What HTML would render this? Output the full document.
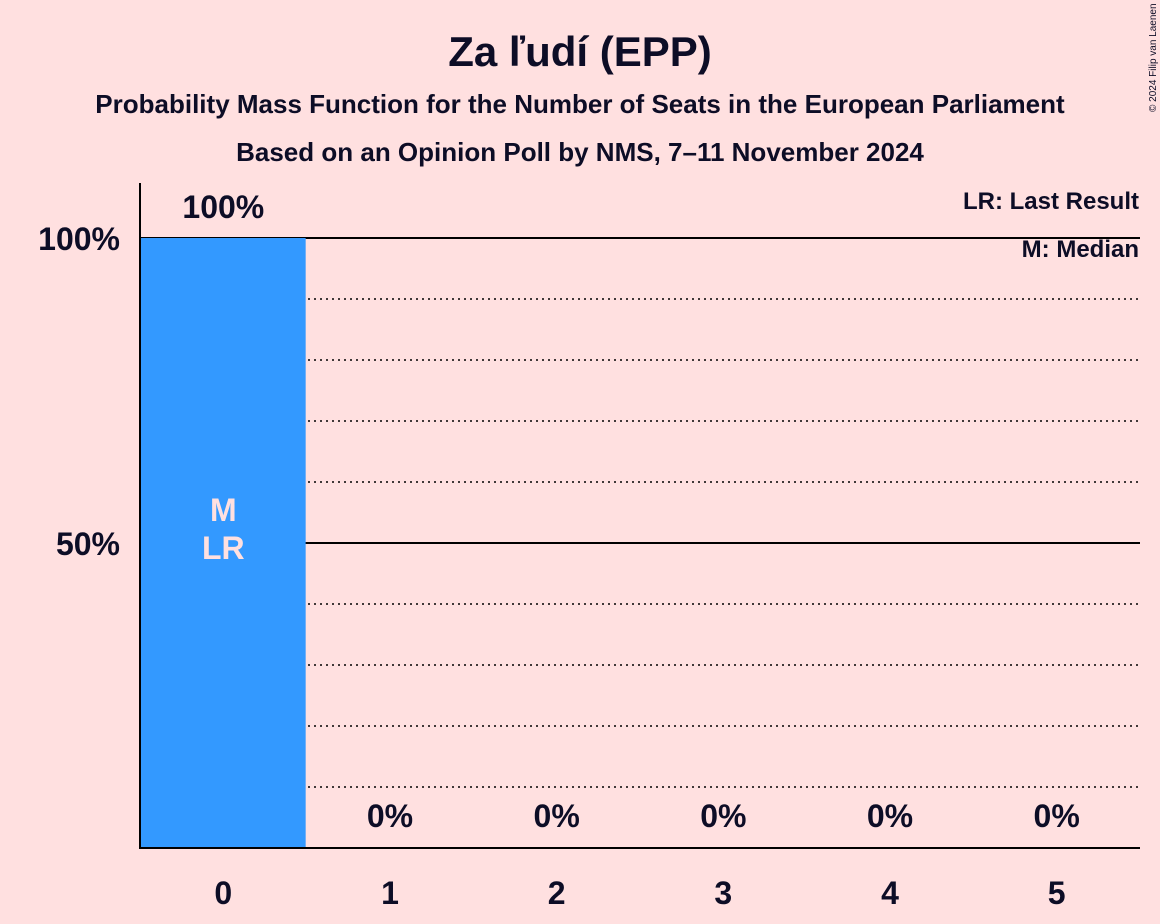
<!DOCTYPE html>
<html><head><meta charset="utf-8"><style>
html,body{margin:0;padding:0;background:#ffe0e0;}
svg{display:block;font-family:"Liberation Sans",sans-serif;}
</style></head><body>
<svg id="chart" width="1160" height="924" viewBox="0 0 1160 924" xmlns="http://www.w3.org/2000/svg">
<rect width="1160" height="924" fill="#ffe0e0"/>
<text x="580" y="66" text-anchor="middle" font-size="42" font-weight="bold" fill="#0d0d26">Za ľudí (EPP)</text>
<text x="580" y="113" text-anchor="middle" font-size="26" font-weight="bold" fill="#0d0d26">Probability Mass Function for the Number of Seats in the European Parliament</text>
<text x="580" y="161" text-anchor="middle" font-size="26" font-weight="bold" fill="#0d0d26">Based on an Opinion Poll by NMS, 7–11 November 2024</text>
<text x="1156" y="112" font-size="10" fill="#0d0d26" transform="rotate(-90 1156 112)">© 2024 Filip van Laenen</text>
<g id="grid"></g>
<g id="bars"></g>
<line x1="140" y1="183" x2="140" y2="848" stroke="#000" stroke-width="2"/>
<line x1="139" y1="848" x2="1140" y2="848" stroke="#000" stroke-width="2"/>
<text x="1139" y="209" text-anchor="end" font-size="24" font-weight="bold" fill="#0d0d26">LR: Last Result</text>
<text x="1139" y="257" text-anchor="end" font-size="24" font-weight="bold" fill="#0d0d26">M: Median</text>
</svg>
<script>
const categories = [0, 1, 2, 3, 4, 5];
const values = [100, 0, 0, 0, 0, 0];
const valueLabels = ["100%", "0%", "0%", "0%", "0%", "0%"];
const yTicks = [50, 100];
const yTickLabels = ["50%", "100%"];
const medianIndex = 0;
const lastResultIndex = 0;

const NS = "http://www.w3.org/2000/svg";
const x0 = 140, x1 = 1140, yBase = 848, yTop100 = 238;
const band = (x1 - x0) / categories.length;
const xPos = i => x0 + i * band;
const yPos = v => yBase - (yBase - yTop100) * v / 100;
function mk(tag, attrs, parent, txt) {
  const e = document.createElementNS(NS, tag);
  for (const k in attrs) e.setAttribute(k, attrs[k]);
  if (txt !== undefined) e.textContent = txt;
  parent.appendChild(e);
  return e;
}
const grid = document.getElementById("grid");
const bars = document.getElementById("bars");
const svg = document.getElementById("chart");
for (let v = 10; v <= 100; v += 10) {
  const solid = v % 50 === 0;
  const l = mk("line", {x1: x0, x2: x1, y1: yPos(v), y2: yPos(v), stroke: "#000", "stroke-width": solid ? 2 : 1.5, "stroke-dasharray": solid ? "" : "2,4"}, grid);
  
  
}
yTicks.forEach((t, i) => {
  const e = mk("text", {x: 120, y: yPos(t) + 12, "text-anchor": "end", "font-size": 32, "font-weight": "bold", fill: "#0d0d26"}, svg, yTickLabels[i]);
  
  
});
categories.forEach((c, i) => {
  const cx = xPos(i) + band / 2;
  if (values[i] > 0) {
    const r = mk("rect", {x: xPos(i), y: yPos(values[i]), width: band - 1, height: yBase - yPos(values[i]), fill: "#3399ff"}, bars);
    
    
  }
  const ly = values[i] > 0 ? yPos(values[i]) - 20 : yBase - 21;
  const vl = mk("text", {x: cx, y: ly, "text-anchor": "middle", "font-size": 32, "font-weight": "bold", fill: "#0d0d26"}, svg, valueLabels[i]);
  
  
  const xl = mk("text", {x: cx, y: 904, "text-anchor": "middle", "font-size": 32, "font-weight": "bold", fill: "#0d0d26"}, svg, String(c));
  
  
});
const mcx = xPos(medianIndex) + band / 2;
const m = mk("text", {x: mcx, y: yPos(50) - 22, "text-anchor": "middle", "font-size": 32, "font-weight": "bold", fill: "#ffe0e0"}, svg, "M");


const lr = mk("text", {x: xPos(lastResultIndex) + band / 2, y: yPos(50) + 16, "text-anchor": "middle", "font-size": 32, "font-weight": "bold", fill: "#ffe0e0"}, svg, "LR");


</script>
</body></html>
